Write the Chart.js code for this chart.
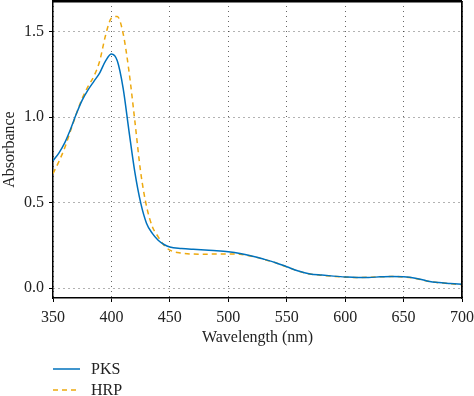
<!DOCTYPE html>
<html>
<head>
<meta charset="utf-8">
<script src="https://cdn.jsdelivr.net/npm/chart.js@4.4.0/dist/chart.umd.min.js"></script>
<style>
    html, body { margin: 0; padding: 0; background: #fff; }
    #wrap { position: relative; width: 474px; height: 396px; }
    #chartBox { position: absolute; left: 0; top: 0; width: 474px; height: 350px; }
    #legend { position: absolute; left: 53px; top: 358px; font-family: "Liberation Serif", serif; font-size: 16px; color: #222; }
    #legend div { height: 21px; display: flex; align-items: center; }
    #legend canvas { margin-right: 11px; }
    #frameBox { position: absolute; border-top: 1.5px solid #000; border-right: 1.5px solid #000; pointer-events: none; }
</style>
</head>
<body>
<div id="wrap">
    <div id="chartBox"><canvas id="absChart"></canvas></div>
    <div id="frameBox"></div>
    <div id="legend"></div>
</div>
<script>
// ----------------------
//  DATA
// ----------------------
const wavelengths = [350, 355, 360, 365, 370, 375, 380, 385, 390, 395, 400, 405, 410, 415, 420, 425, 430, 435, 440, 445,
    450, 460, 470, 480, 490, 500, 510, 520, 530, 540, 550, 560, 570, 580, 590, 600, 610, 620, 630, 640, 650, 660, 670, 680, 690, 700];
const pks = [0.745, 0.79, 0.85, 0.93, 1.02, 1.10, 1.16, 1.21, 1.26, 1.33, 1.37, 1.33, 1.17, 0.92, 0.68, 0.50, 0.38, 0.32, 0.28, 0.255,
    0.24, 0.232, 0.227, 0.223, 0.219, 0.213, 0.203, 0.188, 0.170, 0.150, 0.125, 0.100, 0.083, 0.076, 0.070, 0.065, 0.062, 0.062, 0.066, 0.068, 0.066, 0.058, 0.042, 0.032, 0.027, 0.022];
const hrp = [0.67, 0.74, 0.82, 0.92, 1.02, 1.11, 1.18, 1.24, 1.33, 1.48, 1.58, 1.59, 1.49, 1.27, 0.98, 0.68, 0.48, 0.36, 0.30, 0.25,
    0.222, 0.205, 0.199, 0.198, 0.200, 0.200, 0.198, 0.186, 0.169, 0.149, 0.124, 0.099, 0.082, 0.075, 0.069, 0.064, 0.062, 0.063, 0.066, 0.068, 0.065, 0.057, 0.041, 0.031, 0.026, 0.020];
const seriesNames = ['PKS', 'HRP'];
const xTicks = [350, 400, 450, 500, 550, 600, 650, 700];
const yTicks = [0.0, 0.5, 1.0, 1.5];

const blue = '#0072BD';
const orange = '#EDA90F';
const font = { family: 'Liberation Serif', size: 16 };

function toPoints(values) {
    return wavelengths.map((w, i) => ({ x: w, y: values[i] }));
}

const gridOpts = {
    display: true,
    color: 'rgba(0,0,0,0.6)',
    lineWidth: 1,
    tickColor: '#000',
    tickLength: 4
};

// top + right edge of the plot box
const frame = {
    id: 'plotFrame',
    afterDraw(chart) {
        const a = chart.chartArea;
        const c = chart.ctx;
        c.save();
        c.setLineDash([]);
        c.strokeStyle = '#000';
        c.lineWidth = 1.5;
        c.beginPath();
        c.moveTo(a.left, a.top + 0.75);
        c.lineTo(a.right, a.top + 0.75);
        c.lineTo(a.right, a.bottom);
        c.stroke();
        c.restore();
    }
};

const options = {
    maintainAspectRatio: false,
    animation: false,
    layout: { padding: { top: 1, right: 12, left: 0, bottom: 0 } },
    plugins: { legend: { display: false }, tooltip: { enabled: false } },
    elements: { point: { radius: 0 } },
    scales: {
        x: {
            type: 'linear',
            min: 350,
            max: 700,
            afterBuildTicks: s => { s.ticks = xTicks.map(v => ({ value: v })); },
            afterFit: s => { s.height = 52; s.paddingRight = 0; s.paddingLeft = 0; },
            ticks: { color: '#222', font: font, padding: 6, maxRotation: 0, callback: v => v },
            grid: gridOpts,
            border: { display: true, color: '#000', width: 1.5, dash: [1, 4] },
            title: { display: true, text: 'Wavelength (nm)', color: '#222', font: font, padding: { top: 0, bottom: 3 } }
        },
        y: {
            min: -0.058,
            max: 1.68,
            afterBuildTicks: s => { s.ticks = yTicks.map(v => ({ value: v })); },
            afterFit: s => { s.width = 53; s.paddingTop = 0; s.paddingBottom = 0; },
            ticks: { color: '#222', font: font, padding: 5, callback: v => v.toFixed(1) },
            grid: gridOpts,
            border: { display: true, color: '#000', width: 1.5, dash: [1, 4] },
            title: { display: true, text: 'Absorbance', color: '#222', font: font, padding: { top: 0, bottom: 0 } }
        }
    }
};

const chartData = {
    datasets: [{
        label: seriesNames[0],
        data: toPoints(pks),
        borderColor: blue,
        borderWidth: 1.5,
        cubicInterpolationMode: 'monotone',
        fill: false
    }, {
        label: seriesNames[1],
        data: toPoints(hrp),
        borderColor: orange,
        borderWidth: 1.5,
        borderDash: [5, 4],
        cubicInterpolationMode: 'monotone',
        fill: false
    }]
};

const absChart = new Chart(document.getElementById('absChart').getContext('2d'), {
    type: 'line',
    data: chartData,
    options: options,
    plugins: [frame]
});

// same frame as an overlay, placed from the chart area
const area = absChart.chartArea;
const box = document.getElementById('frameBox');
box.style.left = area.left + 'px';
box.style.top = (area.top - 0.75) + 'px';
box.style.width = (area.right - area.left - 0.75) + 'px';
box.style.height = (area.bottom - area.top + 0.75) + 'px';

// HTML legend, stacked
const legend = document.getElementById('legend');
chartData.datasets.forEach(ds => {
    const row = document.createElement('div');
    const sw = document.createElement('canvas');
    sw.width = 27; sw.height = 4;
    const c = sw.getContext('2d');
    c.strokeStyle = ds.borderColor;
    c.lineWidth = 1.5;
    c.setLineDash(ds.borderDash || []);
    c.beginPath(); c.moveTo(0, 2); c.lineTo(27, 2); c.stroke();
    row.appendChild(sw);
    row.appendChild(document.createTextNode(ds.label));
    legend.appendChild(row);
});
</script>
</body>
</html>
